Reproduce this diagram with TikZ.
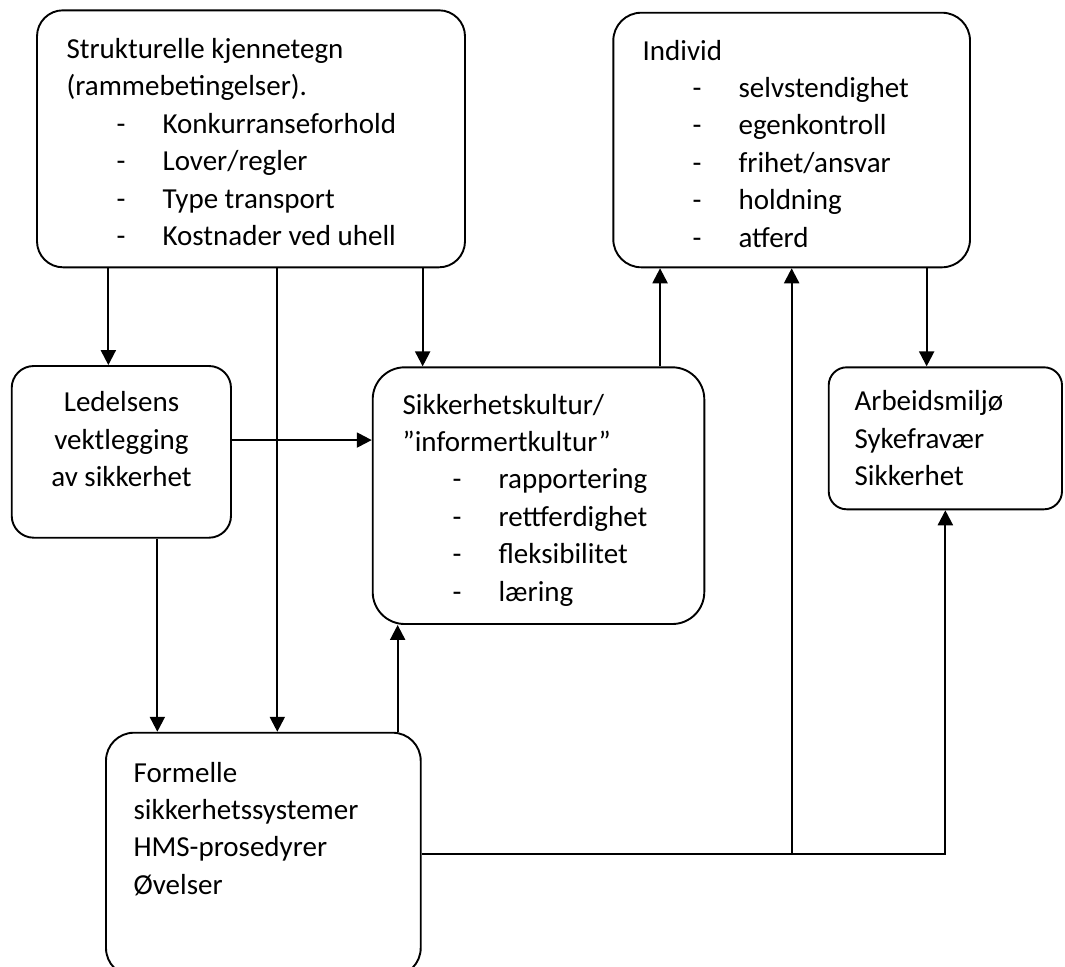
\documentclass[tikz,border=0pt]{standalone}
\usepackage{fontspec}
\setmainfont{Carlito}
\usetikzlibrary{arrows.meta, calc}

\newcommand{\pkt}[1]{\hspace*{25pt}\makebox[23pt][l]{-}#1}

\tikzset{
  boks/.style={draw, line width=0.95pt, rectangle, inner sep=0pt},
  tekst/.style={anchor=base west, inner sep=0pt, font=\fontsize{14.5}{18.7}\selectfont},
}

\begin{document}
\begin{tikzpicture}[x=0.5pt, y=-0.5pt, line width=1.1pt, >={Triangle[length=7.5pt,width=7.5pt]}]
  \useasboundingbox (0,0) rectangle (1065,966);

  % boksene
  \node[boks, rounded corners=13pt, minimum width=214pt, minimum height=128.5pt] (struk) at (251,138.8) {};
  \node[boks, rounded corners=14pt, minimum width=178.35pt, minimum height=127.3pt] (indiv) at (791.65,140) {};
  \node[boks, rounded corners=11pt, minimum width=109.65pt, minimum height=85.85pt] (led) at (121.35,451.85) {};
  \node[boks, rounded corners=16pt, minimum width=165.8pt, minimum height=128.35pt] (sikk) at (538.5,495.65) {};
  \node[boks, rounded corners=9pt, minimum width=116.65pt, minimum height=71pt] (arb) at (945.35,438.3) {};
  \node[boks, rounded corners=14pt, minimum width=157.35pt, minimum height=121.65pt] (form) at (263.35,854.35) {};

  % tekst
  \node[tekst] (strukT) at (65.5,58.5) {\begin{tabular}[t]{@{}l@{}}Strukturelle kjennetegn\\(rammebetingelser).\\\pkt{Konkurranseforhold}\\\pkt{Lover/regler}\\\pkt{Type transport}\\\pkt{Kostnader ved uhell}\end{tabular}};
  \node[tekst] (indivT) at (641.5,60) {\begin{tabular}[t]{@{}l@{}}Individ\\\pkt{selvstendighet}\\\pkt{egenkontroll}\\\pkt{frihet/ansvar}\\\pkt{holdning}\\\pkt{atferd}\end{tabular}};
  \node[tekst, anchor=base] (ledT) at (121.5,411.7) {\begin{tabular}[t]{@{}c@{}}Ledelsens\\vektlegging\\av sikkerhet\end{tabular}};
  \node[tekst] (sikkT) at (401.5,414) {\begin{tabular}[t]{@{}l@{}}Sikkerhetskultur/\\”informertkultur”\\\pkt{rapportering}\\\pkt{rettferdighet}\\\pkt{fleksibilitet}\\\pkt{læring}\end{tabular}};
  \node[tekst] (arbT) at (853.5,410.7) {\begin{tabular}[t]{@{}l@{}}Arbeidsmiljø\\Sykefravær\\Sikkerhet\end{tabular}};
  \node[tekst] (formT) at (132.5,782) {\begin{tabular}[t]{@{}l@{}}Formelle\\sikkerhetssystemer\\HMS-prosedyrer\\Øvelser\end{tabular}};

  % piler
  \coordinate (s1) at ([xshift=36.15pt]struk.south west);
  \coordinate (s2) at ([xshift=13.15pt]struk.south);
  \coordinate (s3) at ([xshift=-21.65pt]struk.south east);
  \coordinate (l1) at ([xshift=18pt]led.south);
  \coordinate (l2) at ([yshift=5.9pt]led.east);
  \coordinate (f1) at ([xshift=-12pt]form.north east);
  \coordinate (i1) at ([xshift=23.85pt]indiv.south west);
  \coordinate (i3) at ([xshift=-22.15pt]indiv.south east);

  \draw[->] (s1) -- (s1 |- led.north);
  \draw[->] (s2) -- (s2 |- form.north);
  \draw[->] (s3) -- (s3 |- sikk.north);
  \draw[->] (l1) -- (l1 |- form.north);
  \draw[->] (l2) -- (l2 -| sikk.west);
  \draw[->] (f1) -- (f1 |- sikk.south);
  \draw[->] (sikk.north -| i1) -- (i1);
  \draw[->] (i3) -- (i3 |- arb.north);
  \draw[->] (form.east) -| (arb.south);
  \draw[->] (form.east -| indiv.south) -- (indiv.south);
\end{tikzpicture}
\end{document}
